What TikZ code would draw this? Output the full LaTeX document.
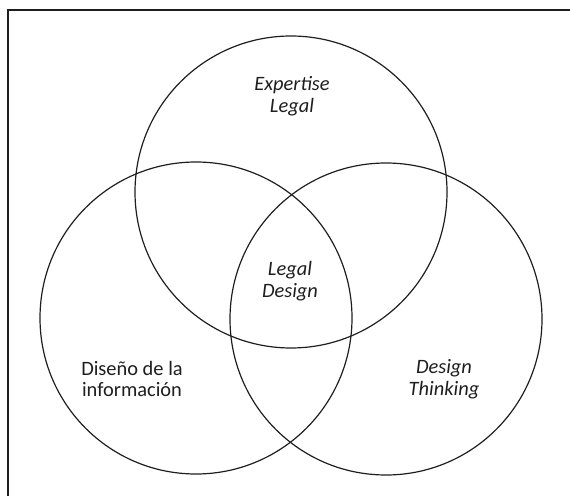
\documentclass[tikz,border=0pt]{standalone}
\usepackage{fontspec}
\setmainfont{Carlito}
\begin{document}
\begin{tikzpicture}[x=1bp,y=-1bp,
  ring/.style={circle,draw=ink,line width=1.2bp,minimum size=312bp,inner sep=0pt},
  lbl/.style={text=ink,font=\fontsize{20.5}{22}\selectfont,align=center,inner sep=0pt},
  frame/.style={draw=ink,line width=1.6bp}]
\definecolor{ink}{HTML}{1E1E1E}
\useasboundingbox (0,0) rectangle (570,496);
\draw[frame] (8,496) -- (8,10) -- (570,10);
\node[ring] (top) at (291,192) {};
\node[ring] (left) at (196,318) {};
\node[ring] (right) at (386,319) {};
\node[lbl] (exp) at (292,96) {\itshape Expertise\\\itshape Legal};
\node[lbl] (ld) at (290,281) {\itshape Legal\\\itshape Design};
\node[lbl] (dis) at (132,379) {Diseño de la\\información};
\node[lbl] (dt) at (444,379) {\itshape Design\\\itshape Thinking};
\end{tikzpicture}
\end{document}
